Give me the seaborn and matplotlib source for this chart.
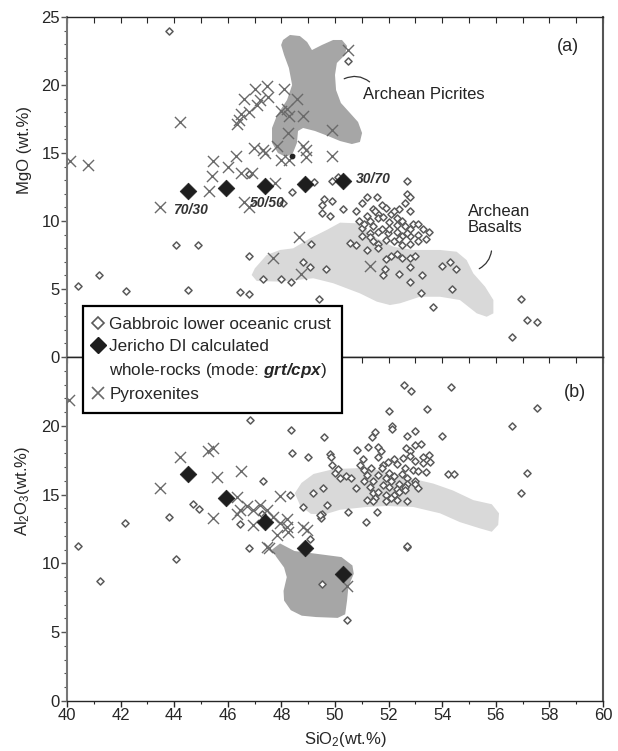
import matplotlib
matplotlib.use('Agg')
import matplotlib.pyplot as plt
import seaborn as sns
from matplotlib.lines import Line2D
from matplotlib.ticker import MultipleLocator

sns.set_style('ticks')
plt.rcParams['font.family'] = ['Liberation Sans', 'DejaVu Sans']
plt.rcParams['font.size'] = 12
plt.rcParams['mathtext.fontset'] = 'custom'
plt.rcParams['mathtext.rm'] = 'Liberation Sans'
plt.rcParams['mathtext.it'] = 'Liberation Sans:italic'
plt.rcParams['mathtext.bf'] = 'Liberation Sans:bold'
try:
    plt.rcParams['mathtext.bfit'] = 'Liberation Sans:italic:bold'
    bfit = r'$\mathbfit{grt/cpx}$'
except KeyError:
    bfit = r'$\mathbf{grt/cpx}$'

# colours
gab_edge = '#5a5a5a'
pyx_color = '#6a6a6a'
jer_color = '#1e1e1e'
picrite_color = '#a6a6a6'
basalt_color = '#d9d9d9'

# ---- data: panel (a) SiO2 vs MgO ----
gab_a_sio2 = [43.8, 50.47, 46.8, 48.4, 49.2, 49.9, 50.1, 52.7, 52.7, 52.8, 51.2, 51.55, 49.6, 49.9,
              49.5, 50.3, 49.5, 49.8, 51.0, 50.8, 51.4, 51.74, 51.9, 52.4, 52.8, 52.1, 51.6, 51.2,
              50.9, 51.3, 51.6, 51.8, 52.3, 52.5, 52.9, 53.1, 53.5, 52.8, 52.6, 52.3, 52.0, 51.75,
              51.4, 51.0, 51.3, 51.6, 51.96, 52.3, 52.5, 52.8, 53.1, 53.4, 53.1, 52.8, 52.5, 52.2,
              51.9, 51.6, 51.3, 51.0, 50.55, 50.8, 51.2, 51.6, 52.3, 52.5, 52.8, 53.0, 52.1, 51.9,
              51.85, 51.8, 52.4, 52.8, 53.25, 52.8, 53.2, 53.98, 54.3, 54.5, 54.35, 53.67, 56.93,
              57.15, 57.55, 56.6, 49.4, 49.1, 49.07, 49.65, 44.05, 44.9, 41.2, 40.4, 42.2, 44.5,
              46.45, 46.8, 46.8, 47.3, 48.0, 48.35, 48.8, 48.07, 51.5, 52.2, 52.6, 51.1, 52.0,
              52.7, 53.3, 52.4, 51.4]
gab_a_mgo = [24.0, 21.8, 13.45, 12.1, 12.85, 12.95, 13.2, 12.94, 12.0, 11.75, 11.8, 11.8, 11.6, 11.5,
             11.2, 10.9, 10.6, 10.4, 11.3, 10.7, 10.9, 11.2, 10.95, 10.9, 10.7, 10.5, 10.5, 10.4,
             10.0, 10.0, 10.2, 10.3, 10.2, 10.0, 9.8, 9.8, 9.2, 9.4, 9.6, 9.7, 9.9, 9.4,
             9.6, 9.5, 9.1, 9.2, 9.1, 9.2, 8.9, 8.9, 9.0, 8.7, 8.5, 8.3, 8.2, 8.5,
             8.6, 8.3, 8.8, 8.9, 8.35, 8.2, 7.9, 8.0, 7.6, 7.3, 7.3, 7.4, 7.4, 7.2,
             6.5, 6.0, 6.1, 6.6, 6.0, 5.5, 4.7, 6.7, 7.0, 6.5, 5.0, 3.7, 4.24,
             2.7, 2.6, 1.45, 4.3, 8.3, 6.6, 6.5, 8.2, 8.2, 6.0, 5.2, 4.85, 4.9,
             4.8, 4.6, 7.4, 5.7, 5.7, 5.55, 7.0, 11.3, 10.7, 10.7, 11.3, 9.8, 9.4,
             9.1, 9.4, 8.7, 8.5]

pyx_a_sio2 = [44.23, 40.1, 40.8, 45.44, 45.4, 45.3, 46.0, 46.3, 46.5, 46.9, 46.98, 46.35, 46.4,
              46.5, 46.8, 46.6, 47.0, 47.45, 47.2, 47.5, 47.1, 48.1, 47.97, 48.2, 48.3, 48.57,
              48.8, 48.26, 49.9, 47.3, 47.4, 47.85, 47.97, 48.3, 48.8, 48.9, 49.9, 47.76, 50.47,
              48.9, 43.47, 46.6, 46.8, 47.7, 48.67, 48.73, 51.3]
pyx_a_mgo = [17.3, 14.4, 14.15, 14.4, 13.3, 12.2, 14.0, 14.8, 13.5, 13.5, 15.4, 17.1, 17.4,
             17.9, 18.0, 19.0, 19.7, 19.95, 18.9, 19.1, 18.5, 19.7, 18.1, 18.2, 17.7, 19.0,
             17.7, 16.5, 16.7, 15.2, 15.0, 15.5, 14.5, 14.5, 15.5, 14.7, 14.8, 12.8, 22.6,
             15.2, 11.0, 11.4, 11.0, 7.25, 8.8, 6.1, 6.7]

jer_sio2 = [44.5, 45.95, 47.4, 48.87, 50.3]
jer_mgo = [12.2, 12.4, 12.6, 12.75, 12.95]
jer_al2o3 = [16.5, 14.73, 13.0, 11.15, 9.2]
jer_labels = ['70/30', '50/50', '30/70']
jer_label_sio2 = [43.95, 46.83, 50.78]
jer_label_mgo = [10.8, 11.3, 13.1]

picrite_a_sio2 = [48.06, 48.32, 48.69, 48.96, 49.14, 49.51, 49.93, 50.26, 50.45, 50.37, 50.07, 50.00,
                  50.04, 50.22, 50.56, 50.86, 51.01, 50.93, 50.63, 50.19, 49.74, 49.25, 48.81, 48.62,
                  48.58, 48.43, 48.17, 47.87, 47.65, 47.65, 47.84, 48.21, 48.40, 48.28, 48.10, 47.99]
picrite_a_mgo = [23.31, 23.68, 23.60, 23.16, 22.57, 22.94, 23.31, 23.31, 22.87, 22.21, 21.62, 20.74,
                 19.63, 18.68, 17.94, 17.28, 16.47, 15.81, 15.66, 15.88, 16.25, 16.62, 16.84, 16.62,
                 15.74, 15.00, 14.71, 15.00, 15.74, 16.84, 17.79, 18.90, 20.00, 21.25, 22.21, 22.94]

basalt_a_sio2 = [46.89, 47.01, 47.45, 47.95, 48.44, 49.07, 49.69, 50.19, 50.81, 51.18, 51.56, 52.18,
                 52.92, 53.92, 54.54, 54.91, 55.16, 55.60, 55.91, 55.91, 55.66, 55.29, 54.66, 53.92,
                 53.17, 52.43, 52.05, 51.56, 50.93, 49.94, 49.19, 47.95, 47.08]
basalt_a_mgo = [6.03, 6.52, 7.50, 7.87, 7.99, 8.73, 9.34, 9.88, 9.83, 9.34, 8.73, 8.11,
                7.87, 7.87, 7.74, 7.13, 6.15, 5.17, 4.19, 3.21, 2.96, 3.21, 4.19, 4.43,
                4.43, 3.95, 3.82, 4.07, 4.68, 5.42, 5.79, 5.54, 5.59]

# ---- data: panel (b) SiO2 vs Al2O3 ----
gab_b_sio2 = [46.83, 48.35, 48.4, 48.98, 49.6, 49.81, 49.86, 50.0, 47.3, 48.32, 48.82, 49.69, 49.19,
              49.54, 49.5, 49.47, 44.69, 44.94, 43.8, 42.16, 40.4, 46.45, 46.8, 41.23, 44.05, 49.5,
              50.45, 52.7, 52.57, 52.84, 54.33, 57.55, 56.62, 52.03, 53.44, 52.11, 52.11, 51.49,
              51.37, 52.7, 52.99, 53.98, 51.24, 51.6, 51.7, 50.81, 51.05, 51.6, 52.66, 52.8, 53.0,
              53.2, 52.2, 52.55, 52.8, 53.0, 53.3, 53.5, 53.55, 53.3, 50.93, 51.96, 51.8, 52.3,
              52.6, 52.9, 53.1, 53.4, 49.88, 50.1, 50.2, 50.4, 50.6, 51.1, 51.35, 51.75, 52.0,
              51.2, 51.6, 51.9, 52.2, 52.5, 52.7, 53.0, 52.1, 52.4, 52.7, 51.1, 51.4, 51.8, 51.3,
              50.8, 52.0, 52.3, 52.6, 53.0, 53.1, 51.4, 51.6, 51.9, 52.2, 52.4, 52.6, 52.3, 52.1,
              51.9, 51.5, 51.2, 51.4, 52.7, 54.23, 54.45, 57.15, 56.93, 49.44, 50.47, 51.16, 51.56,
              52.7, 49.07, 47.27]
gab_b_al2o3 = [20.4, 19.7, 18.0, 17.7, 19.2, 17.95, 17.7, 16.55, 16.0, 15.0, 14.1, 14.25, 15.14,
               15.5, 13.6, 13.3, 14.3, 13.93, 13.4, 12.96, 11.3, 12.84, 11.1, 8.7, 10.3, 8.5,
               5.9, 11.2, 22.97, 22.55, 22.84, 21.3, 20.0, 21.07, 21.2, 20.0, 19.75, 19.57,
               19.16, 19.28, 19.6, 19.26, 18.48, 18.45, 18.2, 18.24, 17.6, 17.7, 18.4, 18.2, 18.6,
               18.7, 17.6, 17.63, 17.8, 17.45, 17.7, 17.9, 17.4, 17.3, 17.15, 17.4, 17.15, 17.2,
               16.9, 16.8, 16.7, 16.66, 17.15, 16.85, 16.2, 16.35, 16.2, 16.8, 16.9, 16.9, 16.6,
               16.4, 16.4, 16.2, 16.35, 16.5, 16.2, 16.0, 16.0, 15.8, 15.8, 16.0, 16.0, 15.7, 15.57,
               15.5, 15.55, 15.4, 15.55, 15.8, 15.45, 15.1, 15.2, 15.0, 15.0, 15.2, 15.3, 14.6, 14.75,
               14.5, 14.75, 14.6, 14.5, 14.5, 16.47, 16.47, 16.55, 15.1, 13.5, 13.7, 13.0, 13.7,
               11.26, 11.8, 13.6]

pyx_b_sio2 = [40.09, 44.2, 45.27, 45.44, 43.47, 45.6, 46.5, 45.44, 47.95, 46.33, 46.33, 46.7, 46.95,
              47.2, 47.45, 47.7, 47.95, 48.2, 48.82, 48.95, 48.26, 47.82, 47.45, 48.2, 46.45, 46.95,
              47.55, 50.45]
pyx_b_al2o3 = [21.9, 17.7, 18.2, 18.36, 15.46, 16.3, 16.7, 13.28, 14.9, 14.85, 13.6, 14.2, 13.9,
               14.25, 13.9, 13.4, 12.9, 12.67, 12.67, 12.4, 12.3, 12.06, 11.2, 13.2, 13.9, 12.8,
               11.1, 8.35]

picrite_b_sio2 = [47.65, 47.95, 48.49, 49.3, 50.24, 50.65, 50.7, 50.5, 50.45, 50.38, 50.1, 49.3,
                  48.76, 48.35, 48.1, 48.08, 48.2, 48.1, 47.8]
picrite_b_al2o3 = [11.0, 11.45, 10.9, 10.7, 10.46, 9.85, 9.25, 8.3, 7.3, 6.3, 6.04, 6.1,
                   6.2, 6.6, 7.3, 8.0, 9.0, 9.7, 10.5]

basalt_b_sio2 = [48.50, 48.75, 49.20, 49.94, 51.18, 52.05, 52.8, 53.67, 54.4, 55.16, 55.85, 56.12,
                 56.09, 55.85, 55.4, 54.66, 53.92, 52.92, 51.93, 51.18, 50.19, 49.6, 49.1, 48.7]
basalt_b_al2o3 = [15.10, 15.85, 16.50, 16.85, 16.95, 16.6, 16.2, 15.8, 15.3, 14.6, 14.3, 13.64,
                  12.8, 12.3, 12.55, 13.0, 13.64, 14.1, 14.17, 14.1, 13.9, 13.55, 13.6, 14.2]

# tick labels
yticks_a = [0, 5, 10, 15, 20, 25]
yticks_b = [0, 5, 10, 15, 20]

# ---- figure ----
fig = plt.figure(figsize=(6.18, 7.51), dpi=100)
ax_a = fig.add_axes([67 / 618, 394 / 751, 536 / 618, 340 / 751])
ax_b = fig.add_axes([67 / 618, 50 / 751, 536 / 618, 344 / 751])

for ax, yt in ((ax_a, yticks_a), (ax_b, yticks_b)):
    ax.set_xlim(40, 60)
    ax.set_ylim(0, 25)
    ax.set_yticks(yt)
    ax.yaxis.set_minor_locator(MultipleLocator(1))
    ax.xaxis.set_minor_locator(MultipleLocator(1))
    ax.tick_params(axis='y', which='major', left=True, right=False, direction='out', length=4,
                   width=1, color='#555555', labelsize=12, pad=1, labelleft=True)
    ax.tick_params(axis='y', which='minor', left=True, right=False, direction='out', length=2.5,
                   width=0.8, color='#555555')
    ax.spines['left'].set_color('#777777')
    ax.spines['left'].set_linewidth(1.5)
    ax.spines['right'].set_color('#555555')
    ax.spines['right'].set_linewidth(1.5)
    ax.spines['top'].set_linewidth(1)
    ax.spines['bottom'].set_linewidth(1)

# top panel: x ticks only on top, inward at every unit
ax_a.xaxis.set_major_locator(MultipleLocator(1))
ax_a.tick_params(axis='x', which='both', top=True, bottom=False, direction='in', length=4,
                 width=0.8, labelbottom=False)
ax_b.xaxis.set_major_locator(MultipleLocator(2))
ax_b.tick_params(axis='x', which='major', bottom=True, top=False, direction='out', length=4,
                 width=1, labelsize=12, pad=1)
ax_b.tick_params(axis='x', which='minor', bottom=True, top=False, direction='out', length=2.5,
                 width=0.8)
ax_b2 = ax_b.secondary_xaxis('top')
ax_b2.xaxis.set_major_locator(MultipleLocator(1))
ax_b2.tick_params(axis='x', top=True, direction='in', length=4, width=0.8, labeltop=False)

# fields
ax_a.fill(picrite_a_sio2, picrite_a_mgo, color=picrite_color, lw=0, zorder=1)
ax_a.fill(basalt_a_sio2, basalt_a_mgo, color=basalt_color, lw=0, zorder=1)
ax_b.fill(picrite_b_sio2, picrite_b_al2o3, color=picrite_color, lw=0, zorder=1)
ax_b.fill(basalt_b_sio2, basalt_b_al2o3, color=basalt_color, lw=0, zorder=1)

# points
for ax, gx, gy, px, py, jy in ((ax_a, gab_a_sio2, gab_a_mgo, pyx_a_sio2, pyx_a_mgo, jer_mgo),
                               (ax_b, gab_b_sio2, gab_b_al2o3, pyx_b_sio2, pyx_b_al2o3, jer_al2o3)):
    sns.scatterplot(x=gx, y=gy, ax=ax, marker='D', s=13, color='white',
                    edgecolor=gab_edge, linewidth=1.1, zorder=3)
    sns.scatterplot(x=px, y=py, ax=ax, marker='x', s=64, color=pyx_color,
                    linewidth=1.0, zorder=3)
    sns.scatterplot(x=jer_sio2, y=jy, ax=ax, marker='D', s=72, color=jer_color,
                    edgecolor=jer_color, linewidth=0.5, zorder=4)

ax_a.scatter([48.4], [14.8], s=10, color='#222222', zorder=3)

for lab, lx, ly in zip(jer_labels, jer_label_sio2, jer_label_mgo):
    ax_a.text(lx, ly, lab, fontsize=10, fontweight='bold', fontstyle='italic',
              color='#333333', va='center', ha='left', zorder=5)

# field labels and leader lines
ax_a.text(51.05, 19.3, 'Archean Picrites', fontsize=12, va='center', ha='left', color='#222222')
ax_a.annotate('', xy=(51.37, 20.1), xytext=(50.25, 20.37),
              arrowprops=dict(arrowstyle='-', connectionstyle='arc3,rad=-0.35', lw=0.9,
                              color='#333333'))
ax_a.text(54.96, 10.1, 'Archean\nBasalts', fontsize=12, va='center', ha='left',
          color='#222222', linespacing=1.1)
ax_a.annotate('', xy=(55.29, 6.4), xytext=(55.85, 8.0),
              arrowprops=dict(arrowstyle='-', connectionstyle='arc3,rad=-0.3', lw=0.9,
                              color='#333333'))

ax_a.text(58.7, 22.8, '(a)', fontsize=13, ha='center', va='center')
ax_b.text(58.96, 22.45, '(b)', fontsize=13, ha='center', va='center')

ax_a.set_ylabel('MgO (wt.%)', fontsize=12)
ax_b.set_ylabel(r'Al$_2$O$_3$(wt.%)', fontsize=12)
ax_b.set_xlabel(r'SiO$_2$(wt.%)', fontsize=12)
ax_a.yaxis.set_label_coords(-0.066, 0.61)
ax_b.yaxis.set_label_coords(-0.066, 0.61)
ax_b.xaxis.set_label_coords(0.52, -0.085)

# legend
handles = [
    Line2D([], [], ls='none', marker='D', ms=6, mfc='white', mec=gab_edge, mew=1.2),
    Line2D([], [], ls='none', marker='D', ms=8.5, mfc=jer_color, mec=jer_color),
    Line2D([], [], ls='none', marker=None),
    Line2D([], [], ls='none', marker='x', ms=8, mec=pyx_color, mew=1.2),
]
labels = ['Gabbroic lower oceanic crust', 'Jericho DI calculated',
          'whole-rocks (mode: ' + bfit + ')', 'Pyroxenites']
leg = fig.legend(handles, labels, loc='upper left', bbox_to_anchor=(83 / 618, 1 - 306 / 751),
                 frameon=True, fancybox=False, framealpha=1, edgecolor='black', fontsize=12.3,
                 handlelength=0.5, handletextpad=0.4, borderpad=0.65, labelspacing=0.4,
                 borderaxespad=0)
leg.get_frame().set_linewidth(1.6)
leg.set_zorder(10)

fig.savefig('out.png', dpi=100)
